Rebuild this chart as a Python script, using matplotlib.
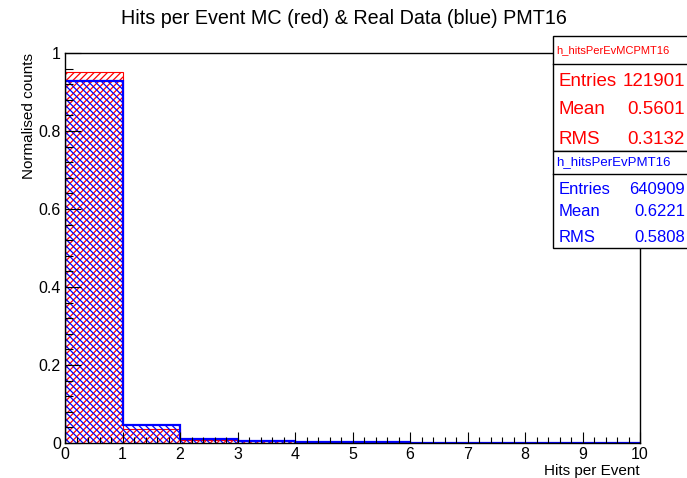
import numpy as np
import matplotlib
matplotlib.use('Agg')
import matplotlib.pyplot as plt
from matplotlib.patches import Rectangle
from matplotlib.ticker import MultipleLocator

plt.rcParams['font.family'] = ['Liberation Sans', 'DejaVu Sans']
plt.rcParams['hatch.linewidth'] = 0.9

# histogram contents (normalised), bins of width 1 from 0 to 10
edges = np.arange(0, 11)
mc_counts = [0.952, 0.036, 0.008, 0.004, 0.0012, 0.0006, 0.0004, 0.0003, 0.0002, 0.0001]
data_counts = [0.929, 0.046, 0.0095, 0.005, 0.0025, 0.0015, 0.001, 0.0007, 0.0005, 0.0003]

mc_name = 'h_hitsPerEvMCPMT16'
mc_stats = [('Entries', '121901'), ('Mean', '0.5601'), ('RMS', '0.3132')]
data_name = 'h_hitsPerEvPMT16'
data_stats = [('Entries', '640909'), ('Mean', '0.6221'), ('RMS', '0.5808')]

W, H = 687, 478
fig = plt.figure(figsize=(W / 100, H / 100), dpi=100)
ax = fig.add_axes([65 / W, 1 - 443 / H, 575 / W, 390 / H])

ax.stairs(mc_counts, edges, fill=True, facecolor='none', edgecolor='red',
          hatch='/////', linewidth=0.8)
ax.stairs(data_counts, edges, fill=True, facecolor='none', edgecolor='blue',
          hatch='\\\\\\\\\\', linewidth=1.6)

ax.set_xlim(0, 10)
ax.set_ylim(0, 1)
ax.xaxis.set_major_locator(MultipleLocator(1))
ax.xaxis.set_minor_locator(MultipleLocator(0.2))
ax.yaxis.set_minor_locator(MultipleLocator(0.04))
ax.set_yticks([0, 0.2, 0.4, 0.6, 0.8, 1])
ax.set_yticklabels(['0', '0.2', '0.4', '0.6', '0.8', '1'])
ax.tick_params(axis='both', which='both', direction='in', top=False, right=False,
               labelsize=11.5, width=0.8, colors='black')
ax.tick_params(axis='y', which='major', length=11.5, pad=3)
ax.tick_params(axis='y', which='minor', length=5.8)
ax.tick_params(axis='x', which='major', length=8, pad=3)
ax.tick_params(axis='x', which='minor', length=4)
for sp in ax.spines.values():
    sp.set_linewidth(1.0)

ax.set_xlabel('Hits per Event', fontsize=11, ha='right', x=1.0, labelpad=1)
ax.set_ylabel('Normalised counts', fontsize=11, ha='right', y=1.0, labelpad=2)

fig.text(0.5 * (122 + 566) / W, 1 - 18 / H,
         'Hits per Event MC (red) & Real Data (blue) PMT16',
         ha='center', va='center', fontsize=14.2)


def px(x, y):
    return x / W, 1 - y / H


def stats_box(top, div, bottom, color, name, name_size, rows, row_ys, row_size):
    x0 = 553
    fig.patches.append(Rectangle(px(x0, bottom), (W + 10 - x0) / W, (bottom - top) / H,
                                 transform=fig.transFigure, facecolor='white',
                                 edgecolor='black', linewidth=1.0, zorder=5))
    fig.add_artist(plt.Line2D([x0 / W, 1.0], [1 - div / H] * 2,
                              transform=fig.transFigure, color='black',
                              linewidth=1.0, zorder=6))
    fig.text(*px(556, (top + div) / 2), name, color=color, fontsize=name_size,
             ha='left', va='center', zorder=7)
    for (label, val), y in zip(rows, row_ys):
        fig.text(*px(559, y), label, color=color, fontsize=row_size,
                 ha='left', va='center', zorder=7)
        fig.text(*px(685, y), val, color=color, fontsize=row_size,
                 ha='right', va='center', zorder=7)


stats_box(36, 64, 151, 'red', mc_name, 8, mc_stats, [81, 110, 140], 13.5)
stats_box(151, 174, 248, 'blue', data_name, 9.5, data_stats, [189, 212, 237], 12)

fig.savefig('out.png', dpi=100, facecolor='white')
